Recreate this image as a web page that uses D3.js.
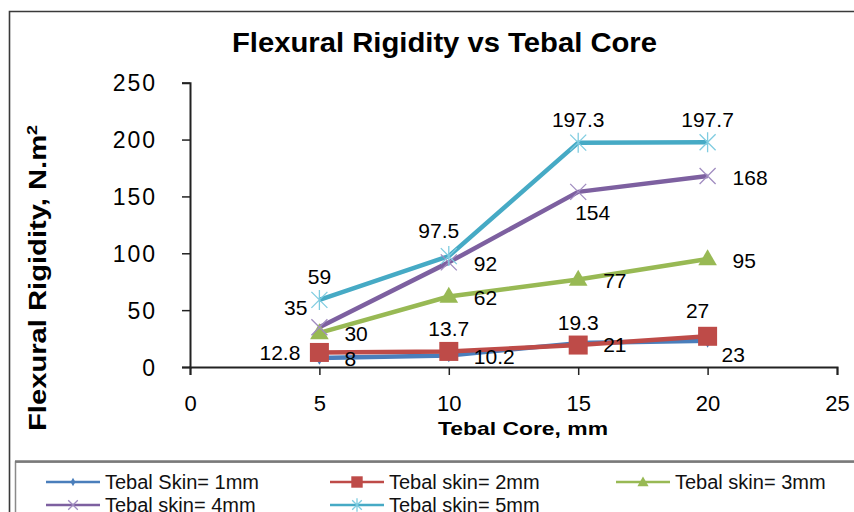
<!DOCTYPE html>
<html><head><meta charset="utf-8">
<script src="https://cdn.jsdelivr.net/npm/d3@7"></script>
<style>
html,body{margin:0;padding:0;background:#fff;}
svg{display:block;font-family:"Liberation Sans",Arial,sans-serif;}
</style></head>
<body><svg id="c" width="854" height="512"></svg>
<script>
// ---- data ----
const xValues = [5, 10, 15, 20];
const seriesNames = ["Tebal Skin= 1mm","Tebal skin= 2mm","Tebal skin= 3mm","Tebal skin= 4mm","Tebal skin= 5mm"];
const skin1 = [8, 10.2, 21, 23];
const skin2 = [12.8, 13.7, 19.3, 27];
const skin3 = [30, 62, 77, 95];
const skin4 = [35, 92, 154, 168];
const skin5 = [59, 97.5, 197.3, 197.7];
const xTicks = [0, 5, 10, 15, 20, 25];
const yTicks = [0, 50, 100, 150, 200, 250];
const titleText = "Flexural Rigidity vs Tebal Core";
const xTitle = "Tebal Core, mm";
const yTitle = "Flexural Rigidity, N.m";

// ---- style / layout config ----
const colors = ["#4A7EBB","#BE4B48","#98B954","#7D60A0","#46AAC5"];
const markerColors = ["#4A7EBB","#BE4B48","#98B954","#A08CC0","#7FCCE0"];
const markers = ["diamond","square","triangle","x","star"];
const placements = [
  ["right","right","right","rightBelow"],
  ["left","above","above","aboveLeft"],
  ["right","right","right","right"],
  ["leftAbove","right","belowRight","right"],
  ["above","aboveLeft","above","above"]
];
const placeDef = {
  right:{dx:25,dy:1,a:"start"},
  left:{dx:-19,dy:0,a:"end"},
  above:{dx:0,dy:-23,a:"middle"},
  aboveLeft:{dx:-10,dy:-26,a:"middle"},
  rightBelow:{dx:14,dy:14,a:"start"},
  leftAbove:{dx:-12,dy:-20,a:"end"},
  belowRight:{dx:-3,dy:21,a:"start"}
};

const svg = d3.select("#c");
const W = 854, H = 512;
const m = {l:190, r:837, t:82.7, b:367};
const x = d3.scaleLinear().domain([0,25]).range([m.l, m.r]);
const y = d3.scaleLinear().domain([0,250]).range([m.b, m.t]);

// background + borders
svg.append("rect").attr("x",0).attr("y",0).attr("width",W).attr("height",H).attr("fill","#fff");
svg.append("path").attr("d",`M9.5,${H+5} V11.5 H${W+5}`).attr("fill","none").attr("stroke","#3a3a3a").attr("stroke-width",1.6);

// title
svg.append("text").attr("x",444.5).attr("y",52).attr("text-anchor","middle")
  .attr("font-size",28).attr("font-weight","bold").attr("fill","#000")
  .attr("textLength",425).attr("lengthAdjust","spacingAndGlyphs").text(titleText);

// axes
const gx = svg.append("g").attr("transform",`translate(0,${m.b})`)
  .call(d3.axisBottom(x).tickValues(xTicks).tickSize(8).tickPadding(20).tickFormat(d3.format("d")));
const gy = svg.append("g").attr("transform",`translate(${m.l},0)`)
  .call(d3.axisLeft(y).tickValues(yTicks).tickSize(8).tickPadding(25).tickFormat(d3.format("d")));
[gx,gy].forEach(g=>{
  g.select(".domain").attr("stroke","#222").attr("stroke-width",2);
  g.selectAll(".tick line").attr("stroke","#222").attr("stroke-width",1.5);
  g.selectAll(".tick text").attr("fill","#000").attr("font-family","Liberation Sans, Arial, sans-serif");
});
gx.selectAll(".tick text").attr("font-size",22);
gy.selectAll(".tick text").attr("font-size",23).attr("letter-spacing",2).attr("dy","0.36em");

// axis titles
svg.append("text").attr("x",523).attr("y",435).attr("text-anchor","middle")
  .attr("font-size",19).attr("font-weight","bold").attr("textLength",170).attr("lengthAdjust","spacingAndGlyphs").text(xTitle);
const yt = svg.append("text").attr("transform","translate(46,278) rotate(-90)").attr("text-anchor","middle")
  .attr("font-size",23).attr("font-weight","bold").attr("textLength",306).attr("lengthAdjust","spacingAndGlyphs");
yt.append("tspan").text(yTitle);
yt.append("tspan").attr("dy",-9).attr("font-size",14).text("2");

// marker drawing
function drawMarker(g, type, cx, cy, col, scale){
  scale = scale||1;
  if(type==="diamond"){
    g.append("path").attr("d",d3.symbol(d3.symbolDiamond, 55*scale*scale)()).attr("transform",`translate(${cx},${cy})`).attr("fill",col);
  } else if(type==="square"){
    const s=19*scale;
    g.append("rect").attr("x",cx-s/2).attr("y",cy-s/2).attr("width",s).attr("height",s).attr("fill",col);
  } else if(type==="triangle"){
    g.append("path").attr("d",d3.symbol(d3.symbolTriangle, 150*scale*scale)()).attr("transform",`translate(${cx},${cy+1})`).attr("fill",col);
  } else if(type==="x"){
    const r=8*scale;
    g.append("path").attr("d",`M${cx-r},${cy-r}L${cx+r},${cy+r}M${cx-r},${cy+r}L${cx+r},${cy-r}`).attr("stroke",col).attr("stroke-width",1.3);
  } else if(type==="star"){
    const r=8*scale;
    g.append("path").attr("d",`M${cx-r},${cy-r}L${cx+r},${cy+r}M${cx-r},${cy+r}L${cx+r},${cy-r}M${cx},${cy-r-2}L${cx},${cy+r+2}`).attr("stroke",col).attr("stroke-width",1.3);
  }
}

const allSeries = [skin1, skin2, skin3, skin4, skin5];
const line = d3.line().x((d,i)=>x(xValues[i])).y(d=>y(d));
const plot = svg.append("g");
allSeries.forEach((vals,si)=>{
  plot.append("path").datum(vals).attr("d",line).attr("fill","none")
    .attr("stroke",colors[si]).attr("stroke-width",4.5).attr("stroke-linejoin","round");
});
allSeries.forEach((vals,si)=>{
  vals.forEach((v,i)=>drawMarker(plot, markers[si], x(xValues[i]), y(v), markerColors[si]));
});
// data labels
allSeries.forEach((vals,si)=>{
  vals.forEach((v,i)=>{
    const p = placeDef[placements[si][i]];
    svg.append("text").attr("x",x(xValues[i])+p.dx).attr("y",y(v)+p.dy).attr("dy","0.36em")
      .attr("text-anchor",p.a).attr("font-size",21).attr("fill","#000").text(String(v));
  });
});

// legend
svg.append("path").attr("d",`M15.5,${H+5} V462 H${W+5}`).attr("fill","none").attr("stroke","#8a8a8a").attr("stroke-width",1.5);
svg.append("line").attr("x1",15).attr("x2",W+5).attr("y1",461.5).attr("y2",461.5).attr("stroke","#7a7a7a").attr("stroke-width",2.5);
const legendPos = [[46,482],[330,482],[616,482],[46,505],[330,505]];
seriesNames.forEach((name,si)=>{
  const [lx,ly] = legendPos[si];
  const lg = svg.append("g");
  lg.append("line").attr("x1",lx).attr("x2",lx+54).attr("y1",ly).attr("y2",ly).attr("stroke",colors[si]).attr("stroke-width",2.5);
  drawMarker(lg, markers[si], lx+27, ly, markerColors[si], 0.6);
  lg.append("text").attr("x",lx+59).attr("y",ly).attr("dy","0.36em").attr("font-size",20).attr("fill","#111").text(name);
});
</script></body></html>
